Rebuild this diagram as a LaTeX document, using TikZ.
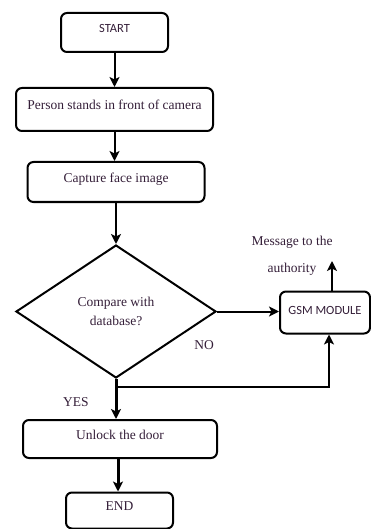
\documentclass[tikz,border=0pt]{standalone}
\usepackage{fontspec}
\setmainfont{Liberation Serif}
\newfontfamily\boxsans{Carlito}
\usetikzlibrary{arrows.meta, shapes.geometric}
\definecolor{inkpurple}{RGB}{52,30,56}

\begin{document}
\begin{tikzpicture}[
      x=1pt, y=-1pt,
      box/.style={
        draw, rounded corners=6pt, line width=2pt, inner sep=0pt,
        align=center, text=inkpurple, text depth=9pt,
        font=\fontsize{13.5}{17}\selectfont
      },
      sansbox/.style={box, font=\boxsans\fontsize{12.5}{15}\selectfont},
      decide/.style={
        draw, diamond, line width=2pt, inner sep=0pt, align=center,
        text=inkpurple, font=\fontsize{13.5}{18.5}\selectfont
      },
      lbl/.style={text=inkpurple, inner sep=0pt, align=center,
        font=\fontsize{13.5}{27}\selectfont},
      arrow/.style={-{Stealth[length=10pt, width=10pt, inset=2.5pt]}, line width=2pt},
      heavy/.style={arrow, line width=3pt}
    ]
    \useasboundingbox (0,0) rectangle (371,529);
    \node[sansbox, minimum width=107pt, minimum height=39pt] (start) at (114.5,32.5) {START};
    \node[box, minimum width=197pt, minimum height=43pt] (person) at (114.5,109.5)
        {Person stands in front of camera};
    \node[box, minimum width=177pt, minimum height=40pt] (capture) at (116,182)
        {Capture face image};
    \node[decide, minimum width=200pt, minimum height=133pt] (compare) at (116,311.5)
        {Compare with\\database?};
    \node[sansbox, minimum width=90pt, minimum height=42pt, text depth=4pt] (gsm) at (325,312.5)
        {GSM MODULE};
    \node[lbl] (msg) at (292,255.5) {Message to the\\authority};
    \node[box, minimum width=194pt, minimum height=38pt] (unlock) at (120,439)
        {Unlock the door};
    \node[box, minimum width=107pt, minimum height=36pt] (finish) at (119.5,510.5) {END};
    \node[lbl] (no) at (204,345) {NO};
    \node[lbl] (yes) at (76,402) {YES};
    \coordinate (msgend) at (332,261);
    \coordinate (split) at (116,387);
    \draw[arrow] (start) -- (person);
    \draw[arrow] (person) -- (person |- capture.north);
    \draw[arrow] (capture) -- (compare);
    \draw[arrow] (compare.east) -- (compare.east -| gsm.west);
    \draw[arrow] (gsm.north -| msgend) -- (msgend);
    \draw[heavy] (compare.south) -- (compare.south |- unlock.north);
    \draw[arrow] (split) -| ([xshift=4pt]gsm.south);
    \draw[heavy] (unlock.south -| 118,0) -- (finish.north -| 118,0);
  \end{tikzpicture}
\end{document}
